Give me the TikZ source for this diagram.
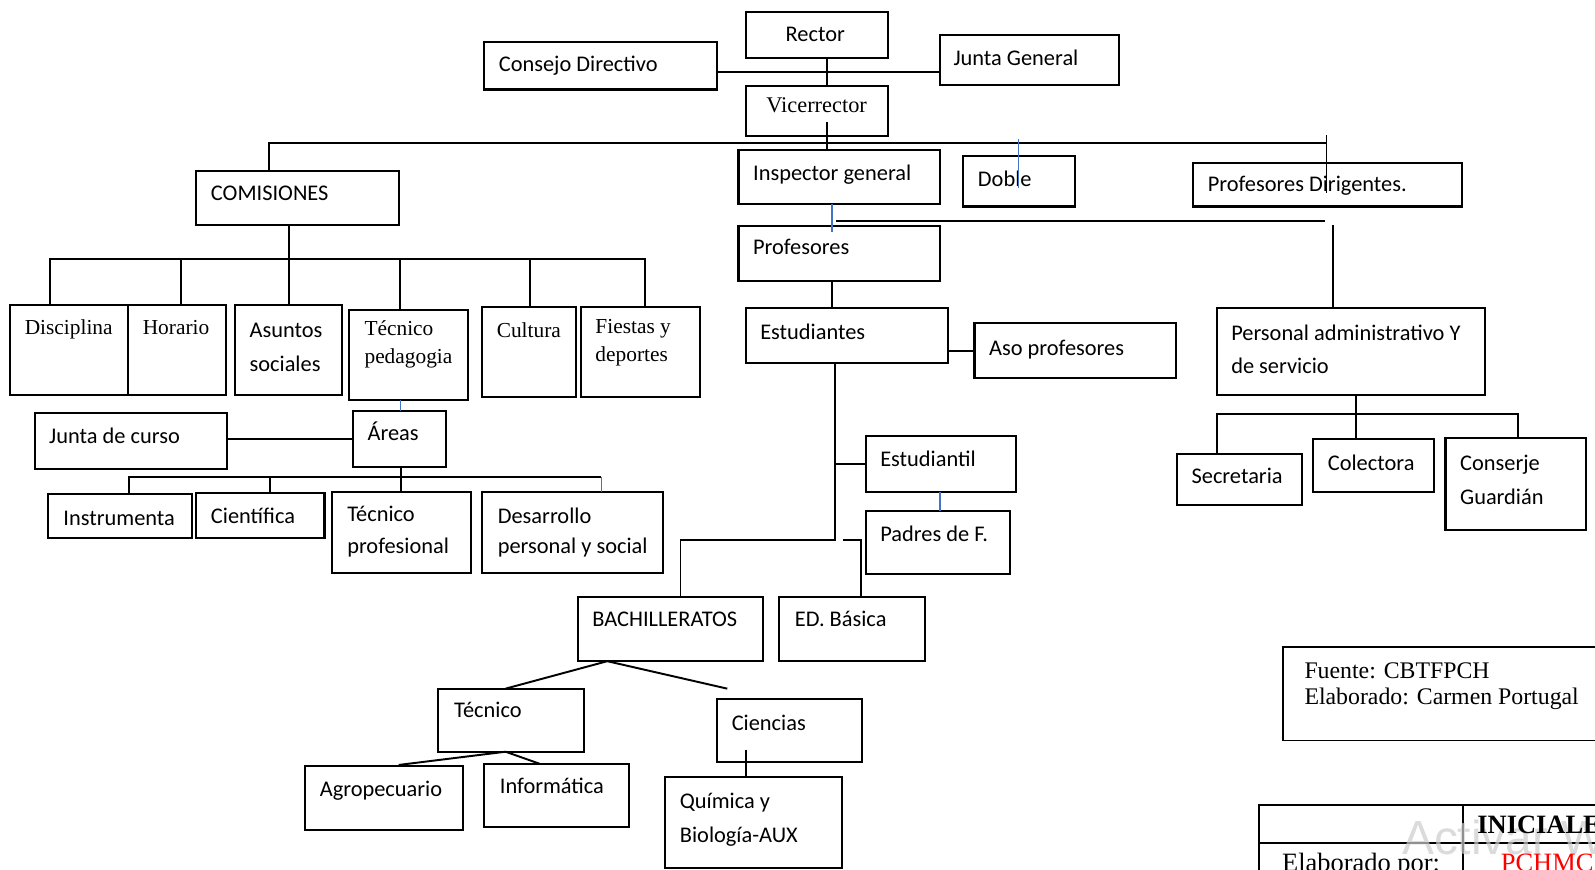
\documentclass[tikz,border=0pt]{standalone}
\usepackage{fontspec}
\setmainfont{Carlito}
\newfontfamily\serif{Liberation Serif}
\newfontfamily\tnr{Liberation Serif}
\newfontfamily\wmfont{Liberation Sans}
\usetikzlibrary{calc}
\definecolor{wblue}{RGB}{68,114,196}
\definecolor{wred}{RGB}{255,0,0}
\newcommand\sr{\serif\fontsize{10.5}{12}\selectfont}
\tikzset{
  box/.style={draw, line width=1pt, inner sep=0pt, outer sep=0pt},
  lbl/.style={inner sep=0pt, anchor=base west, font=\fontsize{11}{13}\selectfont},
  con/.style={line width=0.95pt},
  bcon/.style={line width=0.6pt, draw=wblue},
  foot/.style={inner sep=0pt, anchor=base west, font=\tnr\fontsize{11.7}{14}\selectfont},
}
\newcommand\bx[8]{%
  \pgfmathsetmacro\bw{(#4-#2)*0.5}%
  \pgfmathsetmacro\bh{(#5-#3)*0.5}%
  \node[box, minimum width=\bw pt, minimum height=\bh pt] (#1) at ({(#2+#4)/2},{(#3+#5)/2}) {};%
  \node[lbl] (#1-t) at (#6,#7) {#8};}
\newcommand\tl[4]{\node[lbl] (#1) at (#2,#3) {#4};}
\begin{document}
\begin{tikzpicture}[x=0.5pt, y=-0.5pt]
\clip (0,0) rectangle (1568,855);
\fill[white] (0,0) rectangle (1568,855);
% top
\bx{rector}{733}{12}{873}{57}{772}{41}{Rector}
\bx{consejo}{476}{41}{705}{88}{490}{70}{Consejo Directivo}
\bx{junta}{924}{34}{1100}{84}{937}{64}{Junta General}
\bx{vice}{733}{85}{873}{134}{753}{111}{{\serif\fontsize{11}{13}\selectfont Vicerrector}}
\bx{insp}{726}{147}{924}{201}{740}{177}{Inspector general}
\bx{doble}{947}{153}{1057}{203}{961}{183}{Doble}
\bx{profdir}{1173}{160}{1437}{203}{1187}{188}{Profesores Dirigentes.}
\bx{prof}{726}{222}{924}{276}{740}{250}{Profesores}
\bx{estud}{733}{303}{932}{357}{747}{334}{Estudiantes}
\bx{aso}{958}{318}{1156}{372}{972}{349}{Aso profesores}
\bx{pers}{1196}{303}{1460}{388}{1210}{335}{Personal administrativo Y}
\tl{pers-u}{1210}{367}{de servicio}
\bx{secr}{1157}{446}{1280}{496}{1171}{475}{Secretaria}
\bx{colec}{1291}{432}{1410}{484}{1305}{463}{Colectora}
\bx{cons}{1421}{431}{1559}{521}{1435}{463}{Conserje}
\tl{cons-u}{1435}{496}{Guardián}
\bx{estudiantil}{851}{429}{999}{484}{865}{459}{Estudiantil}
\bx{padres}{851}{502}{993}{564}{865}{532}{Padres de F.}
\bx{bach}{568}{587}{750}{650}{582}{616}{BACHILLERATOS}
\bx{edb}{766}{587}{909}{650}{781}{616}{ED. Básica}
\bx{tec}{431}{677}{574}{739}{446}{705}{Técnico}
\bx{cien}{705}{687}{847}{749}{719}{718}{Ciencias}
\bx{agro}{300}{753}{455}{816}{314}{783}{Agropecuario}
\bx{info}{476}{751}{618}{813}{491}{780}{Informática}
\bx{quim}{654}{764}{828}{853}{668}{795}{Química y}
\tl{quim-u}{668}{828}{Biología-AUX}
% left
\bx{com}{193}{168}{392}{221}{207}{197}{COMISIONES}
\bx{disc}{10}{300}{126}{388}{24}{329}{\sr Disciplina}
\bx{hor}{126}{300}{222}{388}{140}{329}{\sr Horario}
\bx{asun}{231}{300}{336}{388}{245}{332}{Asuntos}
\tl{asun-u}{245}{365}{sociales}
\bx{tp}{343}{305}{460}{393}{358}{330}{\sr Técnico}
\tl{tp-u}{358}{357}{\sr pedagogia}
\bx{cult}{474}{302}{566}{390}{488}{332}{\sr Cultura}
\bx{fiest}{571}{302}{688}{390}{585}{328}{\sr Fiestas y}
\tl{fiest-u}{585}{355}{\sr deportes}
\bx{areas}{347}{404}{438}{459}{361}{433}{Áreas}
\bx{jc}{34}{406}{223}{461}{48}{436}{Junta de curso}
\bx{instr}{47}{486}{189}{529}{62}{517}{Instrumenta}
\bx{cient}{193}{485}{319}{529}{207}{515}{Científica}
\bx{tprof}{326}{484}{463}{563}{341}{513}{Técnico}
\tl{tprof-u}{341}{544}{profesional}
\bx{des}{474}{484}{652}{563}{489}{515}{Desarrollo}
\tl{des-u}{489}{544}{personal y social}
% connectors top
\draw[con] (rector.south -| 813,0) -- (vice.north -| 813,0);
\draw[con] (consejo.east |- 0,71) -- (junta.west |- 0,71);
\draw[con] ($(vice.south -| 813,0)+(0,-14)$) -- (insp.north -| 813,0);
\coordinate (barL) at (264,141);
\coordinate (barR) at (1304,141);
\draw[con] (com.north -| barL) -- (barL) -- (barR);
\draw[con] (barR |- 0,133) -- (barR |- 0,190);
\draw[bcon] (doble.north -| 1001,0) ++(0,-16) -- ++(0,48);
\draw[bcon] (insp.south -| 818,0) -- ($(prof.north -| 818,0)+(0,6)$);
\draw[con] (insp.south -| 822,0) ++(0,16) -- ++(481,0);
\draw[con] (pers.north -| 1310,0) -- ++(0,-82);
\draw[con] (prof.south -| 818,0) -- (estud.north -| 818,0);
\draw[con] (aso.west -| estud.east) -- (aso.west);
\coordinate (ej) at (821,531);
\draw[con] (estud.south -| ej) -- (ej) -- (ej -| 669,0) -- (bach.north -| 669,0);
\draw[con] (estudiantil.west) -- (estudiantil.west -| ej);
\draw[con] ($(ej)+(8,0)$) -- ($(ej)+(25,0)$) -- (edb.north -| 846,0);
\draw[bcon] (estudiantil.south -| 924,0) -- (padres.north -| 924,0);
\coordinate (bj) at ($(bach.south)+(-62,0)$);
\draw[con] ($(tec.north)+(-5.5,0)$) -- (bj) -- ($(cien.north)+(-61,-10)$);
\coordinate (tj) at ($(tec.south)+(-5.5,0)$);
\draw[con] ($(agro.north)+(14.5,-1)$) -- (tj) -- ($(info.north)+(-16,0)$);
\draw[con] ($(cien.south -| 733,0)+(0,-12)$) -- (quim.north -| 733,0);
\coordinate (pj) at (1333,407);
\draw[con] (pers.south -| pj) -- (pj) -- (colec.north -| pj);
\draw[con] (secr.north -| 1196,0) -- (1196,0 |- pj) -- (1492,0 |- pj) -- (cons.north -| 1492,0);
% connectors left
\coordinate (cj) at (284,255);
\draw[con] (com.south -| cj) -- (cj) -- (asun.north -| cj);
\draw[con] (disc.north -| 49,0) -- (49,0 |- cj) -- (634,0 |- cj) -- (fiest.north -| 634,0);
\draw[con] (hor.north -| 178,0) -- (178,0 |- cj);
\draw[con] (tp.north -| 393,0) -- (393,0 |- cj);
\draw[con] (cult.north -| 521,0) -- (521,0 |- cj);
\draw[bcon] (tp.south -| 394,0) -- (areas.north -| 394,0);
\draw[con] (areas.west -| jc.east) -- (areas.west);
\coordinate (aj) at (394,469);
\draw[con] (areas.south -| aj) -- (tprof.north -| aj);
\draw[con] (instr.north -| 127,0) -- (127,0 |- aj) -- (591,0 |- aj);
\draw[con] (cient.north -| 265,0) -- (265,0 |- aj);
\draw[bcon] (591,0 |- aj) -- (des.north -| 591,0);
% footer
\node[box, line width=0.8pt, minimum width=180pt, minimum height=46pt, anchor=north west] (fuente) at (1261,636) {};
\node[foot] (fuente-t) at (1282,667) {Fuente: CBTFPCH};
\node[foot] (fuente-u) at (1282,693) {Elaborado: Carmen Portugal};
\node[box, line width=1.1pt, minimum width=220pt, minimum height=60pt, anchor=north west] (tbl) at (1238,791) {};
\coordinate (tblrow) at (1238,829);
\coordinate (tblcol) at (1438,791);
\draw[line width=1.1pt] (tblrow) -- ++(420,0);
\draw[line width=1.1pt] (tblcol) -- ++(0,120);
\node[text=gray!40, opacity=0.7, inner sep=0pt, anchor=base west, font=\wmfont\fontsize{23.5}{26}\selectfont] (wm) at (1378,840) {Activar Windows};
\node[foot, font=\tnr\bfseries\fontsize{13}{15}\selectfont] (ini) at (1452,819) {INICIALES};
\node[foot, font=\tnr\fontsize{13}{15}\selectfont] (elab) at (1260,857) {Elaborado por:};
\node[foot, font=\tnr\fontsize{13}{15}\selectfont, text=wred] (pch) at (1475,857) {PCHMC};
\end{tikzpicture}
\end{document}
